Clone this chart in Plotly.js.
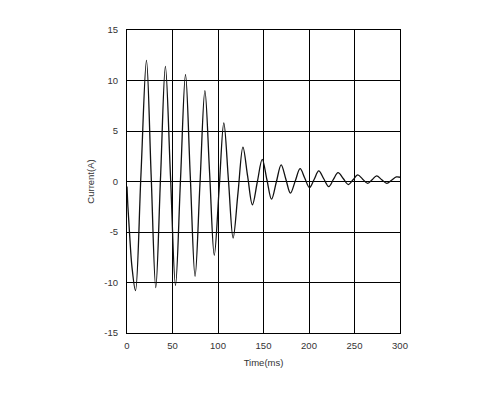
<!DOCTYPE html>
<html>
<head>
<meta charset="utf-8">
<script src="https://cdn.plot.ly/plotly-3.0.1.min.js"></script>
<style>html,body{margin:0;padding:0;background:#fff;}#chart{width:502px;height:396px;}</style>
</head>
<body>
<div id="chart"></div>
<script>
// Time (ms) and current (A) (extrema and crossings)
const timeMs = [0, 1, 2.7, 5.5, 9.3, 15.3, 21.4, 26.5, 31.6, 36.9, 42.2, 47.8, 53.3, 58.8, 64.3, 69.5, 74.8, 80.2, 85.6, 90.8, 95.9, 101.2, 106.4, 111.5, 116.6, 122, 127.4, 132.6, 137.8, 143.2, 148.6, 153.7, 158.8, 164.1, 169.4, 174.5, 179.6, 184.9, 190.2, 195.3, 200.5, 205.6, 210.7, 216.2, 221.7, 226.8, 231.9, 237.6, 243.3, 248.4, 253.5, 259, 264.5, 269.4, 274.3, 279.9, 285.5, 290.7, 296, 300];
const currentA = [-0.5, -2.5, -5, -8.5, -10.8, 0.6, 12.0, 0.7, -10.5, 0.5, 11.4, 0.5, -10.3, 0.2, 10.6, 0.6, -9.4, -0.2, 9.0, 0.8, -7.3, -0.8, 5.8, 0.1, -5.6, -1.1, 3.4, 0.5, -2.3, -0.05, 2.2, 0.2, -1.75, -0.05, 1.65, 0.25, -1.15, 0.05, 1.27, 0.35, -0.6, 0.2, 1.05, 0.27, -0.5, 0.2, 0.87, 0.3, -0.3, 0.17, 0.65, 0.23, -0.18, 0.18, 0.55, 0.18, -0.18, 0.13, 0.45, 0.42];
const xTicks = [0, 50, 100, 150, 200, 250, 300];
const yTicks = [-15, -10, -5, 0, 5, 10, 15];

const trace = {
  x: timeMs, y: currentA, type: 'scatter', mode: 'lines',
  line: {color: '#111', width: 1.3, shape: 'spline', smoothing: 1},
  hoverinfo: 'skip'
};
const fontFam = 'Liberation Sans, Arial, sans-serif';
const axisCommon = {
  showline: true, linecolor: '#000', linewidth: 1, mirror: true,
  showgrid: true, gridcolor: '#000', gridwidth: 1, zeroline: false,
  tickfont: {family: fontFam, size: 9.5, color: '#333'},
  ticks: '', fixedrange: true
};
const layout = {
  width: 502, height: 396,
  margin: {l: 126.5, r: 102, t: 30, b: 63},
  paper_bgcolor: '#fff', plot_bgcolor: '#fff',
  showlegend: false,
  xaxis: Object.assign({}, axisCommon, {
    range: [0, 300], tickvals: xTicks, ticktext: xTicks.map(String),
    ticklabelstandoff: 4,
    title: {text: 'Time(ms)', font: {family: fontFam, size: 9.5, color: '#333'}, standoff: 8}
  }),
  yaxis: Object.assign({}, axisCommon, {
    range: [-15, 15], tickvals: yTicks, ticktext: yTicks.map(String),
    ticklabelstandoff: 6,
    title: {text: 'Current(A)', font: {family: fontFam, size: 9.5, color: '#333'}, standoff: 8}
  })
};
Plotly.newPlot('chart', [trace], layout, {displayModeBar: false, staticPlot: true});
</script>
</body>
</html>
